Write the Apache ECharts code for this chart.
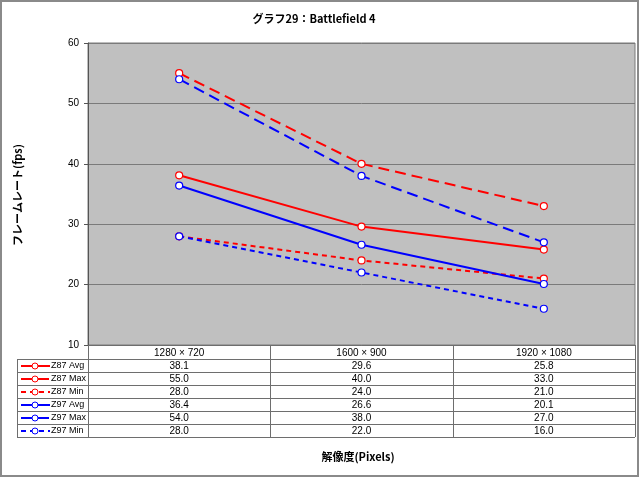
<!DOCTYPE html>
<html>
<head>
<meta charset="utf-8">
<script src="https://cdn.jsdelivr.net/npm/echarts@6/dist/echarts.min.js"></script>
<style>
html,body{margin:0;padding:0;background:#fff;}
#c{width:640px;height:478px;}
</style>
</head>
<body>
<div id="c"></div>
<script>
const categories = ['1280 × 720', '1600 × 900', '1920 × 1080'];
const seriesNames = ['Z87 Avg', 'Z87 Max', 'Z87 Min', 'Z97 Avg', 'Z97 Max', 'Z97 Min'];
const z87Avg = [38.1, 29.6, 25.8];
const z87Max = [55.0, 40.0, 33.0];
const z87Min = [28.0, 24.0, 21.0];
const z97Avg = [36.4, 26.6, 20.1];
const z97Max = [54.0, 38.0, 27.0];
const z97Min = [28.0, 22.0, 16.0];
const yTicks = [10, 20, 30, 40, 50, 60];

const titleText = 'グラフ29：Battlefield 4';
const yTitle = 'フレームレート(fps)';
const xTitle = '解像度(Pixels)';

const RED = '#ff0000', BLUE = '#0000ff';
const styles = [
  {color: RED, type: 'solid'},
  {color: RED, type: [11, 6]},
  {color: RED, type: [5, 4]},
  {color: BLUE, type: 'solid'},
  {color: BLUE, type: [11, 6]},
  {color: BLUE, type: [5, 4]}
];
const allData = [z87Avg, z87Max, z87Min, z97Avg, z97Max, z97Min];

const GL = 88, GR = 635, GT = 43, GB = 345;
const W = 640, H = 478;
const tableLeft = 17;
const headerBottom = 359;
const rowH = 13;
const lineCol = '#6e6e6e';
const font = '"Liberation Sans", Arial, sans-serif';
const jfont = '"Noto Sans CJK JP", sans-serif';

const bandW = (GR - GL) / categories.length;
const tableBottom = headerBottom + rowH * seriesNames.length;

const graphics = [];
graphics.push({type: 'rect', shape: {x: 1, y: 1, width: W - 3, height: H - 3},
  style: {fill: 'none', stroke: '#8a8a8a', lineWidth: 2}, z: 100});
graphics.push({type: 'text', x: 314, y: 19, style: {text: titleText, font: '600 11px ' + jfont, fill: '#000', align: 'center', verticalAlign: 'middle'}});
graphics.push({type: 'text', x: 358, y: 457, style: {text: xTitle, font: '600 11px ' + jfont, fill: '#000', align: 'center', verticalAlign: 'middle'}});
graphics.push({type: 'text', x: 18, y: 195, rotation: Math.PI / 2, style: {text: yTitle, font: '600 11px ' + jfont, fill: '#000', align: 'center', verticalAlign: 'middle'}});

for (let i = 0; i <= seriesNames.length; i++) {
  const y = headerBottom + i * rowH + 0.5;
  graphics.push({type: 'line', shape: {x1: tableLeft, y1: y, x2: GR, y2: y}, style: {stroke: lineCol, lineWidth: 1}});
}
graphics.push({type: 'line', shape: {x1: tableLeft + 0.5, y1: headerBottom, x2: tableLeft + 0.5, y2: tableBottom}, style: {stroke: lineCol, lineWidth: 1}});
for (let c = 0; c <= categories.length; c++) {
  const x = Math.round(GL + c * bandW) + 0.5;
  graphics.push({type: 'line', shape: {x1: x, y1: GB, x2: x, y2: tableBottom}, style: {stroke: lineCol, lineWidth: 1}});
}
seriesNames.forEach((name, r) => {
  const yc = headerBottom + r * rowH + rowH / 2 + 0.5;
  const st = styles[r];
  graphics.push({type: 'line', shape: {x1: 21, y1: yc, x2: 50, y2: yc}, style: {stroke: st.color, lineWidth: 2, lineDash: st.type === 'solid' ? null : st.type}});
  graphics.push({type: 'circle', shape: {cx: 35, cy: yc, r: 3}, style: {fill: '#fff', stroke: st.color, lineWidth: 1}});
  graphics.push({type: 'text', x: 51, y: yc, style: {text: name, font: '9px ' + font, fill: '#000', align: 'left', verticalAlign: 'middle'}});
  allData[r].forEach((v, c) => {
    graphics.push({type: 'text', x: GL + (c + 0.5) * bandW, y: yc, style: {text: v.toFixed(1), font: '10px ' + font, fill: '#000', align: 'center', verticalAlign: 'middle'}});
  });
});

const series = seriesNames.map((name, i) => ({
  name: name,
  type: 'line',
  data: allData[i],
  symbol: 'circle',
  symbolSize: 7,
  showAllSymbol: true,
  lineStyle: {color: styles[i].color, width: 2, type: styles[i].type},
  itemStyle: {color: '#fff', borderColor: styles[i].color, borderWidth: 1.2},
  emphasis: {disabled: true},
  animation: false,
  z: 3
}));

const chart = echarts.init(document.getElementById('c'), null, {renderer: 'canvas'});
chart.setOption({
  animation: false,
  backgroundColor: '#fff',
  grid: {left: GL, right: W - GR, top: GT, bottom: H - GB, show: true, backgroundColor: '#c0c0c0', borderColor: '#7a7a7a', borderWidth: 1},
  xAxis: {
    type: 'category', data: categories, boundaryGap: true,
    axisLine: {show: true, lineStyle: {color: lineCol}},
    axisTick: {show: false},
    axisLabel: {color: '#000', fontSize: 10, fontFamily: font, margin: 3, interval: 0}
  },
  yAxis: {
    type: 'value', min: yTicks[0], max: yTicks[yTicks.length - 1], interval: 10,
    axisLine: {show: true, lineStyle: {color: '#555'}},
    axisTick: {show: true, length: 4, lineStyle: {color: '#555'}},
    axisLabel: {color: '#000', fontSize: 10, fontFamily: font, margin: 9},
    splitLine: {show: true, lineStyle: {color: '#7a7a7a', width: 1}}
  },
  graphic: graphics,
  series: series
});
</script>
</body>
</html>
